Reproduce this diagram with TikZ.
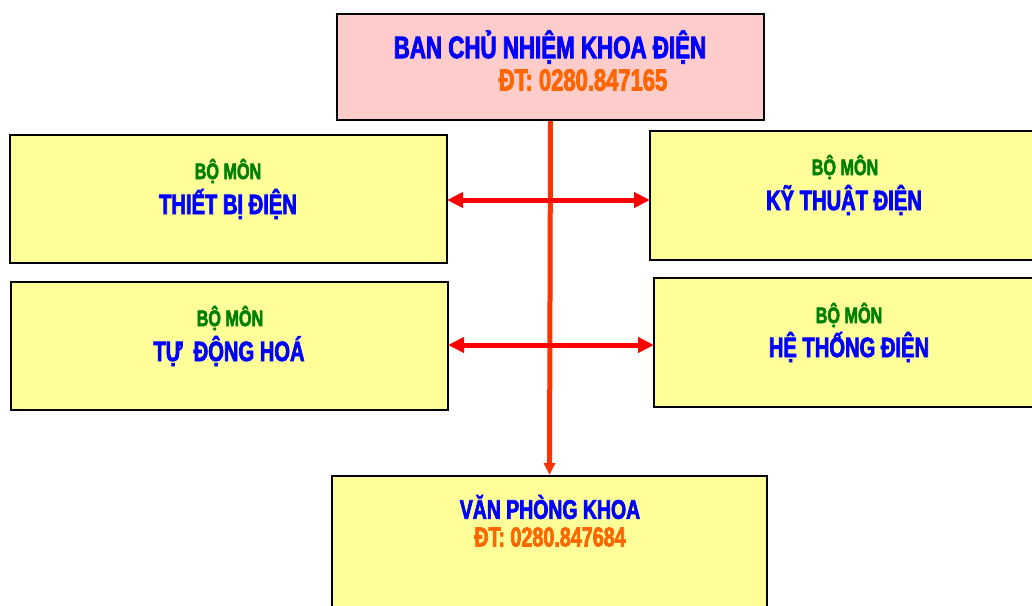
\documentclass[tikz,border=0pt]{standalone}
\usepackage{fontspec}
\setmainfont{Liberation Sans}[FakeStretch=0.72,BoldFeatures={FakeBold=2.5}]
\usetikzlibrary{arrows.meta}
\definecolor{pinkfill}{HTML}{FFCCCC}
\definecolor{yellowfill}{HTML}{FFFF99}
\definecolor{titleblue}{HTML}{0000FF}
\definecolor{deptgreen}{HTML}{008000}
\definecolor{phoneorange}{HTML}{FF6600}
\definecolor{vline}{HTML}{FF3300}
\definecolor{hline}{HTML}{FF0000}
\tikzset{
  box/.style={draw=black, line width=2pt, rectangle, inner sep=0pt},
  pinkbox/.style={box, fill=pinkfill},
  yellowbox/.style={box, fill=yellowfill},
  bigtxt/.style={text=titleblue, font=\bfseries\fontsize{28}{30}\selectfont, inner sep=0pt},
  smalltxt/.style={text=deptgreen, font=\bfseries\fontsize{22.5}{24}\selectfont, inner sep=0pt},
  phonetxt/.style={text=phoneorange, font=\bfseries\fontsize{27.4}{29}\selectfont, inner sep=0pt},
  harrow/.style={draw=hline, line width=5pt, {Triangle[length=16pt,width=15pt]}-{Triangle[length=16pt,width=15pt]}, shorten <=-1pt, shorten >=-1pt},
  varrow/.style={draw=vline, line width=5pt, -{Triangle[length=12pt,width=11pt]}}
}
\begin{document}
\begin{tikzpicture}[x=1pt,y=-1pt]
\useasboundingbox (0,0) rectangle (1032,605);
\clip (0,0) rectangle (1032,605);
% boxes
\node[pinkbox, minimum width=427pt, minimum height=106pt] (bcn) at (550.5,67) {};
\node[yellowbox, minimum width=437pt, minimum height=128pt] (tbd) at (228.5,199) {};
\node[yellowbox, minimum width=437pt, minimum height=128pt] (tdh) at (229.5,346) {};
\node[yellowbox, minimum width=400pt, minimum height=129pt, anchor=west] (ktd) at (649,195.5) {};
\node[yellowbox, minimum width=400pt, minimum height=129pt, anchor=west] (htd) at (653,342.5) {};
\node[yellowbox, minimum width=435pt, minimum height=160pt, anchor=north] (vpk) at (549.5,475) {};
% texts
\node[bigtxt, font=\bfseries\fontsize{31}{33}\selectfont] (t1) at (550,47) {BAN CHỦ NHIỆM KHOA ĐIỆN};
\node[phonetxt, font=\bfseries\fontsize{30.5}{32}\selectfont] (t2) at (583,80) {ĐT: 0280.847165};
\node[smalltxt] (t3) at (228,171) {BỘ MÔN};
\node[bigtxt] (t4) at (228,204) {THIẾT BỊ ĐIỆN};
\node[smalltxt] (t5) at (230,318) {BỘ MÔN};
\node[bigtxt] (t6) at (229,351) {TỰ\ \ ĐỘNG HOÁ};
\node[smalltxt] (t7) at (845,167) {BỘ MÔN};
\node[bigtxt] (t8) at (844,200) {KỸ THUẬT ĐIỆN};
\node[smalltxt] (t9) at (849,315) {BỘ MÔN};
\node[bigtxt] (t10) at (849,347) {HỆ THỐNG ĐIỆN};
\node[bigtxt, font=\bfseries\fontsize{27}{29}\selectfont] (t11) at (550,507) {VĂN PHÒNG KHOA};
\node[phonetxt] (t12) at (550,537) {ĐT: 0280.847684};
% connectors
\draw[varrow] (bcn.south) -- (vpk.north);
\coordinate (a1) at ([yshift=-1pt]tbd.east);
\draw[harrow] (a1) -- (a1 -| ktd.west);
\coordinate (a2) at ([yshift=1pt]tdh.east);
\draw[harrow] (a2) -- (a2 -| htd.west);
\end{tikzpicture}
\end{document}
